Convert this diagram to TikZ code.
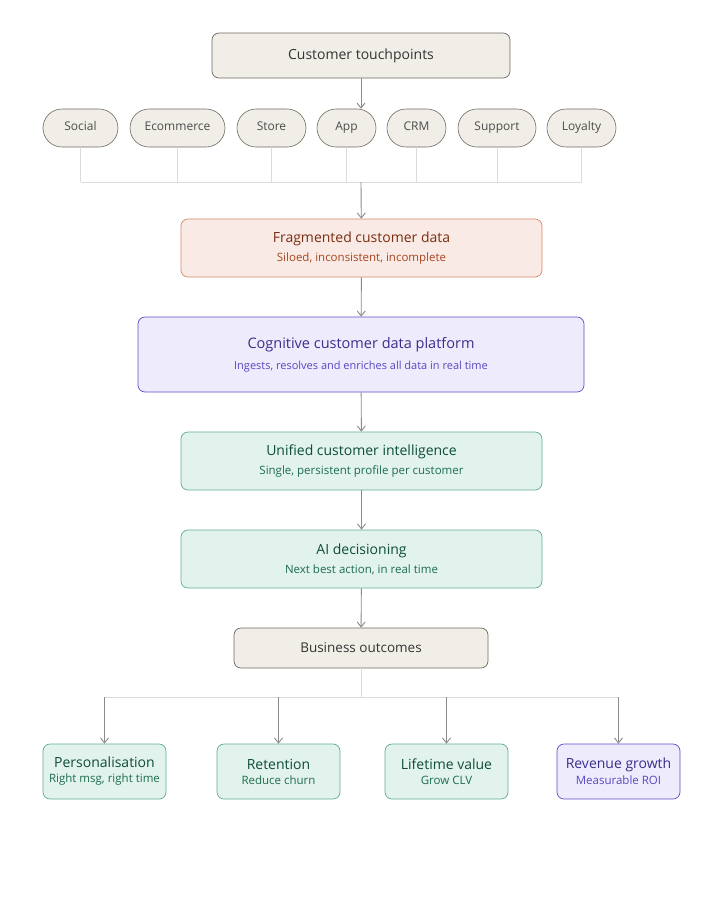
\documentclass[tikz,border=0pt]{standalone}
\usepackage{fontspec}
\setmainfont{Open Sans}
\usetikzlibrary{arrows.meta}
\definecolor{beigeF}{HTML}{F1EEE8}
\definecolor{beigeD}{HTML}{6E6A64}
\definecolor{peachF}{HTML}{F9EAE5}
\definecolor{peachD}{HTML}{D9876A}
\definecolor{peachT}{HTML}{7A2C10}
\definecolor{peachS}{HTML}{A8451E}
\definecolor{purF}{HTML}{EEECFC}
\definecolor{purD}{HTML}{5B4FC9}
\definecolor{purT}{HTML}{3A2E8C}
\definecolor{purS}{HTML}{5747C2}
\definecolor{grnF}{HTML}{E1F3EC}
\definecolor{grnD}{HTML}{5FAE8F}
\definecolor{grnT}{HTML}{0E4D36}
\definecolor{grnS}{HTML}{1E6C4E}
\definecolor{arr}{HTML}{8A8A8A}
\definecolor{thin}{HTML}{DCDCDC}
\newcommand{\tsz}{\fontsize{14}{17}\selectfont}
\newcommand{\ssz}{\fontsize{11.5}{14}\selectfont}
\begin{document}
\begin{tikzpicture}[x=1pt,y=-1pt,
  box/.style={draw,rounded corners=7pt,line width=0.7pt,inner sep=0pt,align=center},
  neutral/.style={box,fill=beigeF,draw=beigeD,text=black!80},
  pill/.style={draw=beigeD,fill=beigeF,rounded corners=19pt,line width=0.6pt,minimum height=38pt,inner sep=0pt,text=black!70,font=\fontsize{12}{14}\selectfont},
  ar/.style={draw=arr,line width=0.9pt,-{Straight Barb[length=5pt,width=8pt]}},
  ln/.style={draw=thin,line width=0.8pt}]
\useasboundingbox (0,0) rectangle (723,914);
\node[neutral,minimum width=298pt,minimum height=45pt,font=\fontsize{14}{17}\selectfont] (ct) at (361,55.5) {Customer touchpoints};
\foreach \n/\t/\a/\b in {p1/Social/43/118,p2/Ecommerce/130/225,p3/Store/237/306,p4/App/317/376,p5/CRM/387/446,p6/Support/458/536,p7/Loyalty/547/616}
  \node[pill,minimum width={\b-\a}] (\n) at ({(\a+\b)/2},128) {\strut\t};
\draw[ar] (ct.south) -- (ct.south |- p4.north);
\coordinate (jc) at (361,182);
\foreach \n in {p1,p2,p3,p4,p5,p6,p7} \draw[ln] (\n.south) -- (\n.south |- jc);
\draw[ln] (p1.south |- jc) -- (p7.south |- jc);
\node[box,fill=peachF,draw=peachD,minimum width=361pt,minimum height=58pt] (fr) at (361.5,248)
 {\tsz\color{peachT}Fragmented customer data\\[6pt]\ssz\color{peachS}Siloed, inconsistent, incomplete};
\draw[ar] (jc) -- (fr);
\node[box,fill=purF,draw=purD,minimum width=446pt,minimum height=75pt] (cg) at (361,354.5)
 {\fontsize{14.5}{17}\selectfont\color{purT}Cognitive customer data platform\\[9pt]\fontsize{11}{13}\selectfont\color{purS}Ingests, resolves and enriches all data in real time};
\draw[ar] (fr) -- (cg);
\node[box,fill=grnF,draw=grnD,minimum width=361pt,minimum height=58pt] (un) at (361.5,461)
 {\tsz\color{grnT}Unified customer intelligence\\[6pt]\ssz\color{grnS}Single, persistent profile per customer};
\draw[ar] (cg) -- (un);
\node[box,fill=grnF,draw=grnD,minimum width=361pt,minimum height=58pt] (ai) at (361.5,559)
 {\tsz\color{grnT}AI decisioning\\[6pt]\ssz\color{grnS}Next best action, in real time};
\draw[ar] (un) -- (ai);
\node[neutral,minimum width=254pt,minimum height=40pt,font=\fontsize{13.5}{16}\selectfont] (bo) at (361,648) {Business outcomes};
\draw[ar] (ai) -- (bo);
\coordinate (bj) at (361,697);
\foreach \n/\t/\s/\a/\b/\f/\d/\tc/\sc in {o1/Personalisation/{Right msg, right time}/43/166/grnF/grnD/grnT/grnS,o2/Retention/Reduce churn/217/340/grnF/grnD/grnT/grnS,o3/Lifetime value/Grow CLV/385/508/grnF/grnD/grnT/grnS,o4/Revenue growth/Measurable ROI/557/680/purF/purD/purT/purS}
  \node[box,fill=\f,draw=\d,minimum width={\b-\a},minimum height=55pt] (\n) at ({(\a+\b)/2},771.5)
  {\fontsize{14}{17}\selectfont\color{\tc}\t\\[3pt]\fontsize{11.5}{14}\selectfont\color{\sc}\s};
\draw[ln] (bo) -- (bj);
\draw[ln] (o1.north |- bj) -- (o4.north |- bj);
\foreach \n in {o1,o2,o3,o4} \draw[ar] (\n.north |- bj) -- (\n.north);
\end{tikzpicture}
\end{document}
